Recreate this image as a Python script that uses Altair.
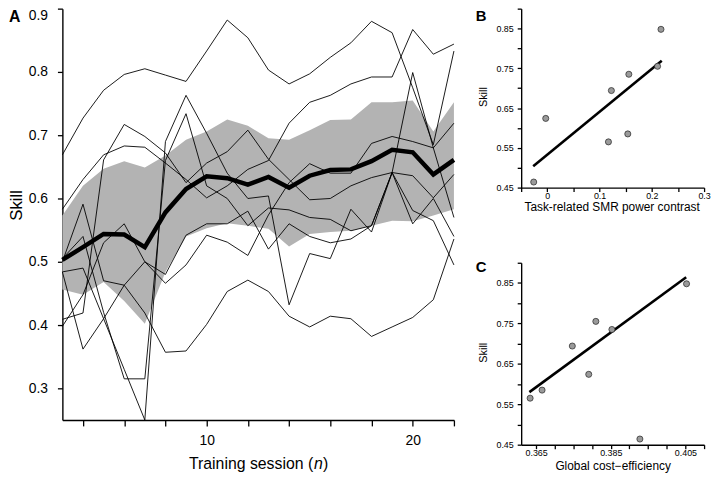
import altair as alt
import pandas as pd

FONT = "Liberation Sans"

# ---------------- Panel A data ----------------
sessions = list(range(3, 23))
mean_skill = [0.503, 0.523, 0.544, 0.543, 0.523, 0.578, 0.615, 0.635, 0.632, 0.622,
              0.634, 0.617, 0.636, 0.645, 0.646, 0.659, 0.677, 0.673, 0.638, 0.661]
band_high = [0.573, 0.620, 0.647, 0.659, 0.649, 0.668, 0.693, 0.706, 0.725, 0.715,
             0.695, 0.693, 0.708, 0.724, 0.725, 0.752, 0.752, 0.755, 0.706, 0.752]
band_low = [0.456, 0.448, 0.468, 0.438, 0.402, 0.484, 0.540, 0.553, 0.561, 0.557,
            0.552, 0.524, 0.544, 0.547, 0.549, 0.557, 0.565, 0.564, 0.573, 0.583]

subj_1 = [0.669, 0.727, 0.771, 0.796, 0.805, 0.795, 0.785, 0.833, 0.882, 0.854,
          0.803, 0.781, 0.797, 0.823, 0.846, 0.880, 0.862, 0.775, 0.685, 0.833]
subj_2 = [0.583, 0.630, 0.669, 0.683, 0.681, 0.656, 0.630, 0.601, 0.620, 0.646,
          0.660, 0.719, 0.752, 0.763, 0.781, 0.792, 0.792, 0.867, 0.828, 0.844]
subj_3 = [0.409, 0.419, 0.661, 0.717, 0.698, 0.672, 0.625, 0.656, 0.674, 0.708,
          0.662, 0.630, 0.598, 0.600, 0.620, 0.633, 0.641, 0.799, 0.680, 0.719]
subj_4 = [0.484, 0.490, 0.410, 0.330, 0.250, 0.690, 0.763, 0.703, 0.640, 0.600,
          0.604, 0.432, 0.513, 0.505, 0.583, 0.547, 0.641, 0.636, 0.601, 0.638]
subj_5 = [0.505, 0.540, 0.420, 0.315, 0.315, 0.660, 0.734, 0.620, 0.600, 0.557,
          0.585, 0.582, 0.570, 0.567, 0.549, 0.557, 0.641, 0.581, 0.565, 0.495]
subj_6 = [0.484, 0.362, 0.410, 0.463, 0.500, 0.466, 0.495, 0.542, 0.531, 0.510,
          0.574, 0.625, 0.655, 0.640, 0.640, 0.687, 0.698, 0.690, 0.680, 0.570]
subj_7 = [0.500, 0.591, 0.470, 0.463, 0.419, 0.357, 0.359, 0.401, 0.453, 0.471,
          0.453, 0.414, 0.397, 0.414, 0.410, 0.382, 0.397, 0.412, 0.440, 0.536]
subj_8 = [0.398, 0.448, 0.530, 0.560, 0.500, 0.480, 0.542, 0.560, 0.560, 0.580,
          0.520, 0.560, 0.540, 0.530, 0.536, 0.557, 0.641, 0.560, 0.600, 0.540]
subject_lines = [subj_1, subj_2, subj_3, subj_4, subj_5, subj_6, subj_7, subj_8]

x_ticks_a = [4, 6, 8, 10, 12, 14, 16, 18, 20, 22]
y_ticks_a = [0.3, 0.4, 0.5, 0.6, 0.7, 0.8, 0.9]

# ---------------- Panels B / C data ----------------
final_skill = [0.464, 0.624, 0.565, 0.694, 0.585, 0.735, 0.755, 0.848]
smr_contrast = [-0.026, -0.003, 0.117, 0.1226, 0.154, 0.156, 0.211, 0.2175]
cost_eff = [0.3928, 0.3791, 0.3634, 0.3747, 0.3666, 0.3853, 0.3810, 0.4053]
fit_b_x = [-0.027, 0.219]
fit_b_y = [0.504, 0.769]
fit_c_x = [0.3632, 0.4052]
fit_c_y = [0.580, 0.864]

y_ticks_bc = [0.45, 0.5, 0.55, 0.6, 0.65, 0.7, 0.75, 0.8, 0.85, 0.9]
x_ticks_b = [-0.05, 0.0, 0.05, 0.1, 0.15, 0.2, 0.25, 0.3]
x_ticks_c = [0.365, 0.37, 0.375, 0.38, 0.385, 0.39, 0.395, 0.4, 0.405, 0.41]

# ---------------- tables ----------------
df_a = pd.DataFrame({"session": sessions, "mean": mean_skill,
                     "low": band_low, "high": band_high})
rows = []
for i, vals in enumerate(subject_lines):
    for s, v in zip(sessions, vals):
        rows.append({"session": s, "skill": v, "subject": f"S{i+1}"})
df_subj = pd.DataFrame(rows)
df_b = pd.DataFrame({"x": smr_contrast, "skill": final_skill})
df_c = pd.DataFrame({"x": cost_eff, "skill": final_skill})
df_fb = pd.DataFrame({"x": fit_b_x, "skill": fit_b_y})
df_fc = pd.DataFrame({"x": fit_c_x, "skill": fit_c_y})


def common(**kw):
    d = dict(domainColor="black", domainWidth=1.4, tickColor="black", tickWidth=1.3,
             labelColor="black", labelFont=FONT, grid=False, title=None,
             labelOverlap=False, labelFlush=False)
    d.update(kw)
    return d


def hidden_size(test, size):
    # labels that are not shown get font size 0 so they take no room
    return {"condition": {"test": test, "value": 0}, "value": size}


def txt(text, x, y, size, **kw):
    return alt.Chart(pd.DataFrame({"t": [text]})).mark_text(
        font=FONT, fontSize=size, color="black", **kw
    ).encode(x=alt.value(x), y=alt.value(y), text="t:N")


# ---------------- Panel A ----------------
xs_a = alt.Scale(domain=[3, 22], nice=False, zero=False)
ys_a = alt.Scale(domain=[0.25, 0.9], nice=False, zero=False)
show_a = "datum.value == 10 || datum.value == 20"
ax_xa = alt.Axis(**common(values=x_ticks_a, tickSize=6, labelPadding=8,
                          labelFontSize=hidden_size("!(" + show_a + ")", 14),
                          labelExpr=show_a + " ? datum.label : ''"))
ax_ya = alt.Axis(**common(values=y_ticks_a, format=".1f", tickSize=5, labelFontSize=14,
                          labelPadding=10, labelFlush=True))

band = alt.Chart(df_a).mark_area(color="#b3b3b3", opacity=1).encode(
    x=alt.X("session:Q", scale=xs_a, axis=ax_xa),
    y=alt.Y("low:Q", scale=ys_a, axis=ax_ya),
    y2="high:Q",
)
thin = alt.Chart(df_subj).mark_line(color="black", strokeWidth=0.9).encode(
    x=alt.X("session:Q", scale=xs_a, axis=ax_xa),
    y=alt.Y("skill:Q", scale=ys_a, axis=ax_ya),
    detail="subject:N",
)
thick = alt.Chart(df_a).mark_line(color="black", strokeWidth=4.5).encode(
    x=alt.X("session:Q", scale=xs_a, axis=ax_xa),
    y=alt.Y("mean:Q", scale=ys_a, axis=ax_ya),
)
panel_a = alt.layer(
    band, thin, thick,
    txt("A", -54, 0.5, 16, fontWeight="bold", align="left", baseline="top"),
    txt("Skill", -46, 199, 17, angle=270, align="center", baseline="middle"),
    txt("Training session (", 128, 466, 16, align="left", baseline="alphabetic"),
    txt("n", 254.5, 466, 16, align="left", baseline="alphabetic", fontStyle="italic"),
    txt(")", 263.5, 466, 16, align="left", baseline="alphabetic"),
).properties(width=396, height=416)

# ---------------- Panels B and C ----------------
ys_bc = alt.Scale(domain=[0.45, 0.9], nice=False, zero=False)
show_y = "round(datum.value*100) % 10 == 5"
ax_ybc = alt.Axis(**common(values=y_ticks_bc, tickSize=4, labelPadding=4,
                           labelFontSize=hidden_size("!(" + show_y + ")", 9),
                           labelExpr=show_y + " ? format(datum.value, '.2f') : ''"))

xs_b = alt.Scale(domain=[-0.05, 0.3], nice=False, zero=False)
show_b = "abs(datum.value*10 - round(datum.value*10)) < 0.001"
ax_xb = alt.Axis(**common(values=x_ticks_b, tickSize=4, labelPadding=0,
                          labelFontSize=hidden_size("!(" + show_b + ")", 9),
                          labelExpr=show_b + " ? format(datum.value, '.1~f') : ''"))
xs_c = alt.Scale(domain=[0.361, 0.41], nice=False, zero=False)
show_c = "indexof([365, 385, 405], round(datum.value*1000)) >= 0"
ax_xc = alt.Axis(**common(values=x_ticks_c, tickSize=4, labelPadding=0,
                          labelFontSize=hidden_size("!(" + show_c + ")", 9),
                          labelExpr=show_c + " ? format(datum.value, '.3f') : ''"))


def scatter_panel(df, dfit, xs, axx, letter, xtitle, xt_x, xt_y, h, ly):
    pts = alt.Chart(df).mark_circle(size=38, color="#9a9a9a", opacity=1,
                                    stroke="#222222", strokeWidth=0.7).encode(
        x=alt.X("x:Q", scale=xs, axis=axx),
        y=alt.Y("skill:Q", scale=ys_bc, axis=ax_ybc),
    )
    fit = alt.Chart(dfit).mark_line(color="black", strokeWidth=2.6).encode(
        x=alt.X("x:Q", scale=xs, axis=axx),
        y=alt.Y("skill:Q", scale=ys_bc, axis=ax_ybc),
    )
    return alt.layer(
        fit, pts,
        txt(letter, -46, ly, 15, fontWeight="bold", align="left", baseline="top"),
        txt("Skill", -38, h / 2 - 1, 11, angle=270, align="center", baseline="middle"),
        txt(xtitle, xt_x, xt_y, 12, align="center", baseline="alphabetic"),
    ).properties(width=185, height=h)


panel_b = scatter_panel(df_b, df_fb, xs_b, ax_xb, "B",
                        "Task-related SMR power contrast", 92, 205, 181, 0.5)
panel_c = scatter_panel(df_c, df_fc, xs_c, ax_xc, "C",
                        "Global cost\u2212efficiency", 93, 210, 184, -3)

chart = alt.hconcat(
    panel_a,
    alt.vconcat(panel_b, panel_c, spacing=76, bounds="flush"),
    spacing=68,
    bounds="flush",
).properties(
    padding={"left": 0, "top": -3, "right": 1, "bottom": 0},
    background="white",
).configure_view(stroke=None)

chart.save("out.html", embed_options={"renderer": "svg", "actions": False})
